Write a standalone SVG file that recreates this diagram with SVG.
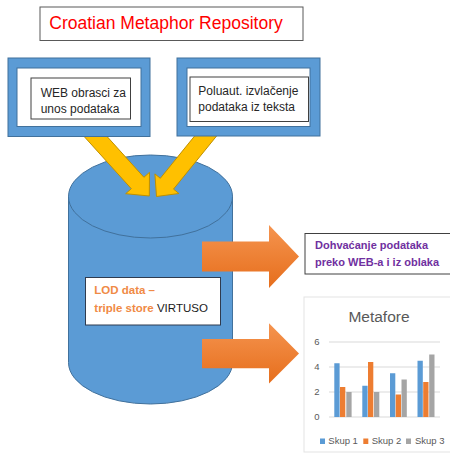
<svg xmlns="http://www.w3.org/2000/svg" width="450" height="456" viewBox="0 0 450 456">
<defs>
<linearGradient id="og" x1="0" y1="0" x2="0" y2="1">
<stop offset="0" stop-color="#F5944F"/>
<stop offset="1" stop-color="#E66E1C"/>
</linearGradient>
<style>
text{font-family:"Liberation Sans",Arial,sans-serif}
.blue{fill:#5B9BD5;stroke:#41719C;stroke-width:1}
.inner{fill:#FFFFFF;stroke:#41719C;stroke-width:1}
.tbox{fill:#FFFFFF;stroke:#404040;stroke-width:1}
.yarrow{fill:#FFC000;stroke:#BF9000;stroke-width:1;stroke-linejoin:miter}
.oarrow{fill:url(#og);stroke:none}
.lbl{font-size:12px;fill:#262626}
.ax{font-size:9.5px;fill:#595959}
.grid{stroke:#D9D9D9;stroke-width:1}
</style>
</defs>
<rect width="450" height="456" fill="#FFFFFF"/>

<g id="lod-store">
<path class="blue" d="M68.5,196.5 L68.5,362.5 A82,41.5 0 0 0 232.5,362.5 L232.5,196.5 Z"/>
<ellipse class="blue" cx="150.5" cy="196.5" rx="82" ry="41.5"/>
<rect class="tbox" x="85.5" y="277.5" width="135" height="47.5" style="stroke:#2F3B4F"/>
<text x="94.3" y="294.3" font-size="11.5" font-weight="bold" fill="#F08A45">LOD data –</text>
<text x="94.3" y="311.7" font-size="11.5" font-weight="bold" fill="#F08A45">triple store<tspan font-weight="normal" fill="#1A1A1A" font-size="11.5"> VIRTUSO</tspan></text>
</g>

<g id="connectors">
<polygon class="yarrow" points="74.4,125.7 87,114.3 143.9,177.3 149.5,172.3 149.3,196 125.7,193.7 131.3,188.7"/>
<polygon class="yarrow" points="212,114.6 225.2,125.4 173.5,189.1 178.9,193.5 156.5,196.5 154.9,173.9 160.3,178.3"/>
<polygon class="oarrow" points="202,241.5 269,241.5 269,225 299,256.5 269,288 269,271.5 202,271.5"/>
<polygon class="oarrow" points="202,339 269,339 269,323.3 299,353.5 269,383.5 269,368.3 202,368.3"/>
</g>

<g id="box-web">
<rect class="blue" x="8" y="58" width="142" height="78.5"/>
<rect class="inner" x="17" y="68" width="124" height="58.5"/>
<rect class="tbox" x="31" y="78" width="99.5" height="41"/>
<text class="lbl" x="40.7" y="96.7">WEB obrasci za</text>
<text class="lbl" x="40.7" y="112.7">unos podataka</text>
</g>

<g id="box-poluaut">
<rect class="blue" x="177" y="58" width="143" height="78"/>
<rect class="inner" x="187" y="68" width="123" height="58.5"/>
<rect class="tbox" x="190" y="77" width="118.5" height="44.5"/>
<text class="lbl" x="198.3" y="95">Poluaut. izvlačenje</text>
<text class="lbl" x="198.3" y="110.5">podataka iz teksta</text>
</g>

<g id="title">
<rect x="40" y="7" width="263" height="33.5" fill="#FFFFFF" stroke="#595959" stroke-width="1"/>
<text x="49.3" y="29.3" font-size="17.5" fill="#FF0000">Croatian Metaphor Repository</text>
</g>

<g id="dohvacanje">
<rect class="tbox" x="305" y="233.5" width="150" height="40.5"/>
<text x="315" y="249.3" font-size="11" font-weight="bold" fill="#7030A0">Dohvaćanje podataka</text>
<text x="315" y="266" font-size="11" font-weight="bold" fill="#7030A0">preko WEB-a i iz oblaka</text>
</g>

<g id="chart">
<rect x="304" y="297" width="152" height="155" fill="#FFFFFF" stroke="#E3E3E3" stroke-width="1"/>
<text x="379" y="321.7" font-size="15.5" fill="#595959" text-anchor="middle">Metafore</text>
<line class="grid" x1="329" y1="342" x2="440" y2="342"/>
<line class="grid" x1="329" y1="367" x2="440" y2="367"/>
<line class="grid" x1="329" y1="392" x2="440" y2="392"/>
<line class="grid" x1="329" y1="417" x2="440" y2="417"/>
<text class="ax" x="319.5" y="345.3" text-anchor="end">6</text>
<text class="ax" x="319.5" y="370.3" text-anchor="end">4</text>
<text class="ax" x="319.5" y="395.3" text-anchor="end">2</text>
<text class="ax" x="319.5" y="420.3" text-anchor="end">0</text>
<g fill="#5B9BD5">
<rect x="334.3" y="363.25" width="5.3" height="53.75"/>
<rect x="362.3" y="385.75" width="5.3" height="31.25"/>
<rect x="390" y="373.25" width="5.3" height="43.75"/>
<rect x="417.5" y="360.75" width="5.3" height="56.25"/>
</g>
<g fill="#ED7D31">
<rect x="340" y="387" width="5.3" height="30"/>
<rect x="368" y="362" width="5.3" height="55"/>
<rect x="395.7" y="394.5" width="5.3" height="22.5"/>
<rect x="423.2" y="382" width="5.3" height="35"/>
</g>
<g fill="#A5A5A5">
<rect x="346.3" y="392" width="5.3" height="25"/>
<rect x="374" y="392" width="5.3" height="25"/>
<rect x="401.5" y="379.5" width="5.3" height="37.5"/>
<rect x="429.2" y="354.5" width="5.3" height="62.5"/>
</g>
<rect x="320" y="438.5" width="5" height="5.5" fill="#5B9BD5"/>
<text class="ax" x="328.3" y="444.2">Skup 1</text>
<rect x="363.3" y="438.5" width="5" height="5.5" fill="#ED7D31"/>
<text class="ax" x="371.7" y="444.2">Skup 2</text>
<rect x="406" y="438.5" width="5" height="5.5" fill="#A5A5A5"/>
<text class="ax" x="415" y="444.2">Skup 3</text>
</g>
</svg>
